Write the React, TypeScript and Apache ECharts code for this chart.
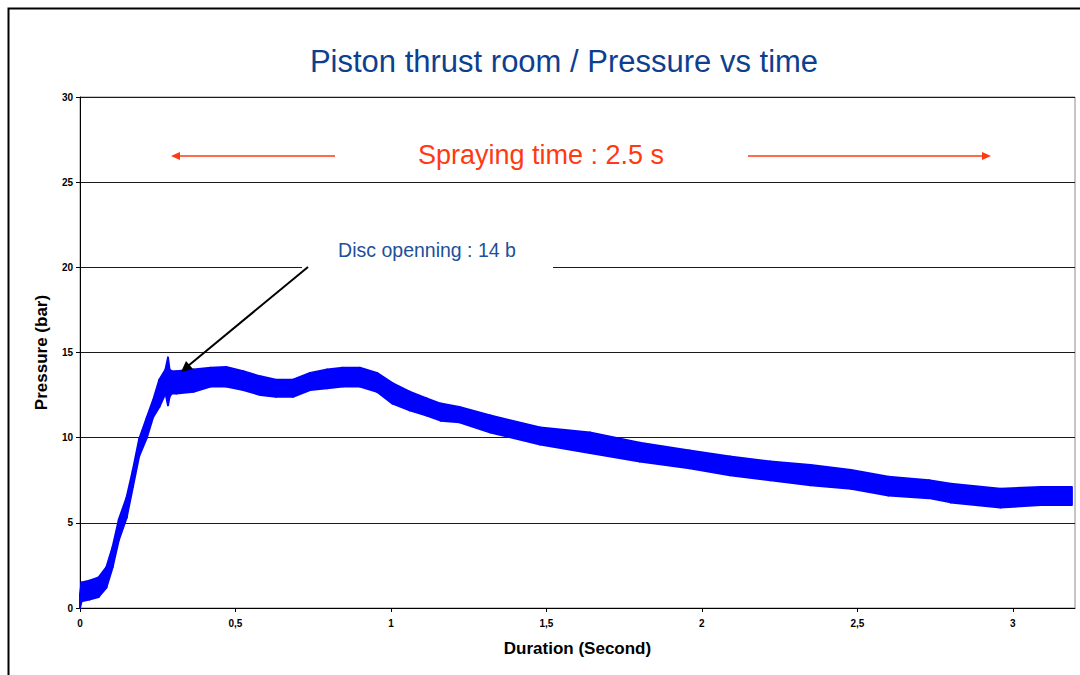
import React, { useEffect, useRef } from "react";
import * as echarts from "echarts";

// Time (s) sampled along the recorded pressure trace
const time = [0, 0.005, 0.03, 0.06, 0.085, 0.105, 0.125, 0.15, 0.17, 0.19, 0.215, 0.235, 0.255, 0.275, 0.283, 0.288, 0.295, 0.31, 0.365, 0.42, 0.47, 0.525, 0.58, 0.63, 0.685, 0.74, 0.795, 0.845, 0.9, 0.955, 1.005, 1.06, 1.115, 1.16, 1.22, 1.32, 1.48, 1.64, 1.8, 1.96, 2.09, 2.22, 2.35, 2.48, 2.6, 2.73, 2.8, 2.96, 3.09, 3.19];
// Upper envelope of the noisy pressure band (bar)
const pressureHigh = [0.8, 1.5, 1.6, 1.8, 2.4, 3.6, 5.2, 6.5, 8.1, 9.9, 11.2, 12.2, 13.4, 14.0, 14.7, 14.0, 13.9, 13.9, 14.0, 14.1, 14.15, 13.9, 13.6, 13.4, 13.4, 13.8, 14.0, 14.1, 14.1, 13.8, 13.2, 12.7, 12.3, 12.0, 11.8, 11.3, 10.6, 10.3, 9.7, 9.25, 8.9, 8.6, 8.4, 8.1, 7.7, 7.5, 7.3, 7.0, 7.1, 7.1];
// Lower envelope of the noisy pressure band (bar)
const pressureLow = [0, 0.4, 0.5, 0.65, 1.2, 2.4, 4.0, 5.3, 7.1, 8.9, 10.0, 11.2, 11.8, 12.6, 11.9, 12.4, 12.6, 12.6, 12.7, 13.0, 13.0, 12.8, 12.5, 12.4, 12.4, 12.8, 12.9, 13.0, 13.0, 12.7, 12.0, 11.6, 11.3, 11.0, 10.9, 10.3, 9.6, 9.1, 8.6, 8.2, 7.8, 7.5, 7.2, 7.0, 6.6, 6.45, 6.2, 5.9, 6.05, 6.05];

const xTicks = [0, 0.5, 1, 1.5, 2, 2.5, 3];
const yTicks = [0, 5, 10, 15, 20, 25, 30];

const FONT = "'Liberation Sans', Arial, sans-serif";

export default function App() {
  const ref = useRef<HTMLDivElement>(null);

  useEffect(() => {
    if (!ref.current) return;
    const chart = echarts.init(ref.current, undefined, { renderer: "svg" });

    const blue = "#0000FF";
    const red = "#FF3A12";

    // Each datum: [t_i, low_i, high_i, t_next, low_next, high_next]
    const bandData = time.slice(0, -1).map((t, i) => [
      t,
      pressureLow[i],
      pressureHigh[i],
      time[i + 1],
      pressureLow[i + 1],
      pressureHigh[i + 1],
    ]);

    chart.setOption({
      animation: false,
      backgroundColor: "#ffffff",
      textStyle: { fontFamily: FONT },
      grid: {
        left: 80,
        right: 5,
        top: 97,
        bottom: 67,
        show: true,
        borderColor: "#8c8c8c",
        borderWidth: 1,
        backgroundColor: "transparent",
      },
      xAxis: {
        type: "value",
        min: 0,
        max: 3.2,
        interval: 0.5,
        name: "Duration (Second)",
        nameLocation: "middle",
        nameGap: 32,
        nameTextStyle: { fontFamily: FONT, fontWeight: "bold", fontSize: 17, color: "#000" },
        axisLine: { show: true, lineStyle: { color: "#000", width: 1 } },
        axisTick: { show: true, inside: false, length: 4, lineStyle: { color: "#000" } },
        axisLabel: {
          showMaxLabel: false,
          margin: 10,
          fontFamily: FONT,
          fontWeight: "bold",
          fontSize: 10,
          color: "#000",
          formatter: (v: number) =>
            xTicks.some((t) => Math.abs(t - v) < 1e-6) ? String(v).replace(".", ",") : "",
        },
        splitLine: { show: false },
      },
      yAxis: {
        type: "value",
        min: 0,
        max: 30,
        interval: 5,
        name: "Pressure (bar)",
        nameLocation: "middle",
        nameGap: 30,
        nameRotate: 90,
        nameTextStyle: { fontFamily: FONT, fontWeight: "bold", fontSize: 17, color: "#000" },
        axisLine: { show: true, lineStyle: { color: "#000", width: 1 } },
        axisTick: { show: true, inside: false, length: 4, lineStyle: { color: "#000" } },
        axisLabel: {
          margin: 7,
          fontFamily: FONT,
          fontWeight: "bold",
          fontSize: 10,
          color: "#000",
          formatter: (v: number) => (yTicks.includes(v) ? String(v) : ""),
        },
        splitLine: { show: true, lineStyle: { color: "#1a1a1a", width: 1 } },
      },
      series: [
        {
          name: "Pressure",
          type: "custom",
          silent: true,
          z: 3,
          data: bandData,
          encode: { x: [0, 3], y: [1, 2, 4, 5] },
          renderItem: (params: any, api: any) => {
            const a = api.coord([api.value(0), api.value(1)]);
            const b = api.coord([api.value(0), api.value(2)]);
            const c = api.coord([api.value(3), api.value(5)]);
            const d = api.coord([api.value(3), api.value(4)]);
            return {
              type: "polygon",
              shape: { points: [a, b, c, d] },
              style: { fill: blue, stroke: blue, lineWidth: 2, lineJoin: "round" },
            };
          },
        },
      ],
      graphic: [
        {
          type: "rect",
          z: 0,
          silent: true,
          shape: { x: 8.5, y: 8.5, width: 1100, height: 700 },
          style: { fill: "none", stroke: "#000", lineWidth: 2 },
        },
        {
          type: "text",
          z: 10,
          x: 564,
          y: 61,
          style: {
            text: "Piston thrust room / Pressure vs time",
            fontFamily: FONT,
            fontSize: 31,
            fill: "#0E3F8F",
            align: "center",
            verticalAlign: "middle",
          },
        },
        {
          type: "text",
          z: 10,
          x: 541,
          y: 155,
          style: {
            text: "Spraying time : 2.5 s",
            fontFamily: FONT,
            fontSize: 27,
            fill: red,
            align: "center",
            verticalAlign: "middle",
          },
        },
        {
          type: "line",
          z: 10,
          shape: { x1: 335, y1: 156, x2: 178, y2: 156 },
          style: { stroke: red, lineWidth: 1.5 },
        },
        {
          type: "polygon",
          z: 10,
          shape: { points: [[171, 156], [180, 152], [180, 160]] },
          style: { fill: red },
        },
        {
          type: "line",
          z: 10,
          shape: { x1: 748, y1: 156, x2: 984, y2: 156 },
          style: { stroke: red, lineWidth: 1.5 },
        },
        {
          type: "polygon",
          z: 10,
          shape: { points: [[991, 156], [982, 152], [982, 160]] },
          style: { fill: red },
        },
        {
          type: "rect",
          z: 9,
          shape: { x: 302, y: 232, width: 251, height: 36 },
          style: { fill: "#ffffff" },
        },
        {
          type: "text",
          z: 10,
          x: 427,
          y: 250,
          style: {
            text: "Disc openning : 14 b",
            fontFamily: FONT,
            fontSize: 19.5,
            fill: "#1D4F9A",
            align: "center",
            verticalAlign: "middle",
          },
        },
        {
          type: "line",
          z: 10,
          shape: { x1: 308, y1: 267, x2: 188, y2: 366 },
          style: { stroke: "#000", lineWidth: 2 },
        },
        {
          type: "polygon",
          z: 10,
          shape: { points: [[181, 372], [186, 361], [193, 369]] },
          style: { fill: "#000" },
        },
      ],
    });

    return () => chart.dispose();
  }, []);

  return (
    <div
      ref={ref}
      style={{ position: "fixed", left: 0, top: 0, width: 1080, height: 675, background: "#fff" }}
    />
  );
}
